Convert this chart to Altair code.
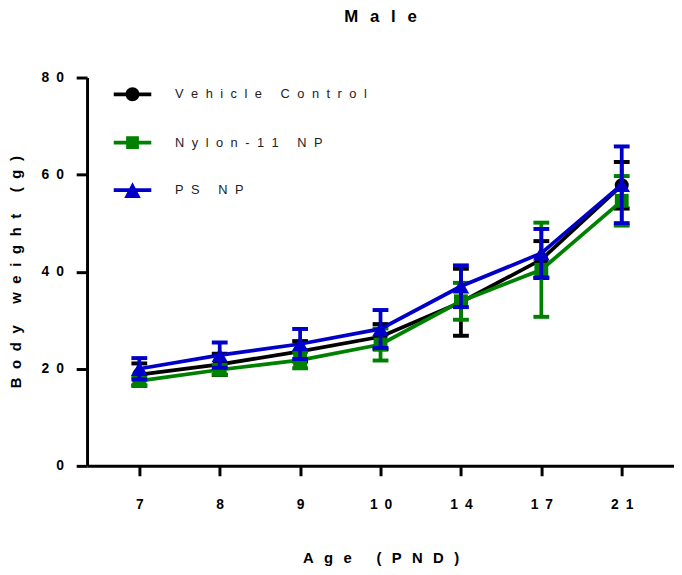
import altair as alt
import pandas as pd

# ---- data ----
days = [7, 8, 9, 10, 14, 17, 21]
series = ["Vehicle Control", "Nylon-11 NP", "PS NP"]
vehicle_mean = [18.8, 20.9, 23.6, 26.6, 33.7, 42.5, 57.8]
vehicle_err = [2.3, 2.2, 2.1, 2.6, 6.9, 3.8, 4.8]
nylon_mean = [17.5, 19.8, 21.8, 25.0, 33.9, 40.4, 54.6]
nylon_err = [0.9, 1.0, 1.7, 3.3, 3.8, 9.7, 5.1]
ps_mean = [20.0, 22.8, 25.1, 28.2, 37.0, 43.8, 57.9]
ps_err = [2.2, 2.6, 3.1, 3.9, 4.3, 5.0, 7.9]
colors = ["#000000", "#008000", "#0000C8"]
y_ticks = [0, 20, 40, 60, 80]

SP = "\u2002"          # en space
THIN = "\u2009"        # thin space
HAIR = "\u200a"        # hair space


def spaced(s, gap=SP):
    out = []
    for w in s.split(" "):
        out.append(gap.join(w))
    return (gap + " " + gap).join(out)


tick_labels = [spaced(str(d)) for d in days]
legend_labels = [spaced(s, SP + HAIR) for s in series]

means = [vehicle_mean, nylon_mean, ps_mean]
errs = [vehicle_err, nylon_err, ps_err]

rows = []
for name, lab, m, e in zip(series, legend_labels, means, errs):
    for d, t, mv, ev in zip(days, tick_labels, m, e):
        rows.append({"series": name, "legend": lab, "day": d, "label": t,
                     "mean": mv, "lo": mv - ev, "hi": mv + ev})
df = pd.DataFrame(rows)

FONT = "Liberation Sans"

x_enc = alt.X(
    "label:O",
    scale=alt.Scale(type="point", domain=tick_labels, padding=0.65),
    axis=alt.Axis(title=spaced("Age (PND)", SP + THIN), labelAngle=0, tickSize=10,
                  labelPadding=22, titlePadding=40),
)
y_axis = alt.Axis(
    title=spaced("Body weight (g)", SP + HAIR),
    values=y_ticks,
    labelExpr="datum.value == 0 ? '0' : floor(datum.value / 10) + '" + SP + "0'",
    tickSize=11, labelPadding=13, titlePadding=18,
)
y_scale = alt.Scale(domain=[0, 80], nice=False)


def yq(field):
    return alt.Y(field + ":Q", scale=y_scale, axis=y_axis)


shapes = ["circle", "square", "triangle-up"]
sizes = [200, 196, 280]

layers = []
for name, color, shape, size in zip(series, colors, shapes, sizes):
    base = alt.Chart(df).transform_filter(alt.datum.series == name)
    line = base.mark_line(color=color, strokeWidth=3.8).encode(x=x_enc, y=yq("mean"))
    rule = base.mark_rule(color=color, strokeWidth=3.8).encode(
        x=x_enc, y=yq("lo"), y2="hi:Q")
    caps = base.transform_fold(["lo", "hi"], as_=["end", "val"]).mark_tick(
        color=color, size=16, thickness=4, opacity=1).encode(x=x_enc, y=yq("val"))
    pts = base.mark_point(shape=shape, filled=True, size=size, color=color,
                          opacity=1, strokeWidth=0).encode(x=x_enc, y=yq("mean"))
    layers += [line, rule, caps, pts]

paths = [
    "M-1,-0.1L1,-0.1L1,0.1L-1,0.1Z M0.37,0A0.37,0.37,0,1,1,-0.37,0A0.37,0.37,0,1,1,0.37,0Z",
    "M-1,-0.1L1,-0.1L1,0.1L-1,0.1Z M-0.34,-0.34L0.34,-0.34L0.34,0.34L-0.34,0.34Z",
    "M-1,-0.1L1,-0.1L1,0.1L-1,0.1Z M0,-0.42L0.44,0.42L-0.44,0.42Z",
]

leg = alt.Legend(
    title=None, orient="none", legendX=27, legendY=-2, symbolSize=1444,
    symbolStrokeWidth=0, labelFont=FONT, labelFontSize=13, labelColor="#222222",
    labelOffset=24, rowPadding=22, padding=0, symbolOpacity=1, labelLimit=0,
)
legend_layer = alt.Chart(df).transform_filter("datum.mean < 0").mark_point(
    filled=True, opacity=1).encode(
    x=x_enc, y=yq("mean"),
    color=alt.Color("legend:N", scale=alt.Scale(domain=legend_labels, range=colors), legend=leg),
    shape=alt.Shape("legend:N", scale=alt.Scale(domain=legend_labels, range=paths), legend=leg),
)

chart = alt.layer(*layers, legend_layer).properties(
    width=594, height=393,
    title=alt.Title(spaced("Male", SP + THIN), fontSize=17, font=FONT, fontWeight="bold",
                    anchor="middle", offset=45, color="black"),
    padding={"left": 80, "top": 67, "right": 0, "bottom": 99},
    autosize="none",
).configure_view(stroke=None).configure_axis(
    grid=False, domainColor="black", domainWidth=3, tickColor="black", tickWidth=3,
    labelFont=FONT, labelFontWeight="bold", labelFontSize=14, labelColor="black",
    titleFont=FONT, titleFontSize=15, titleFontWeight="bold", titleColor="black",
)

chart.save("out.html", embed_options={"renderer": "svg", "actions": False})
